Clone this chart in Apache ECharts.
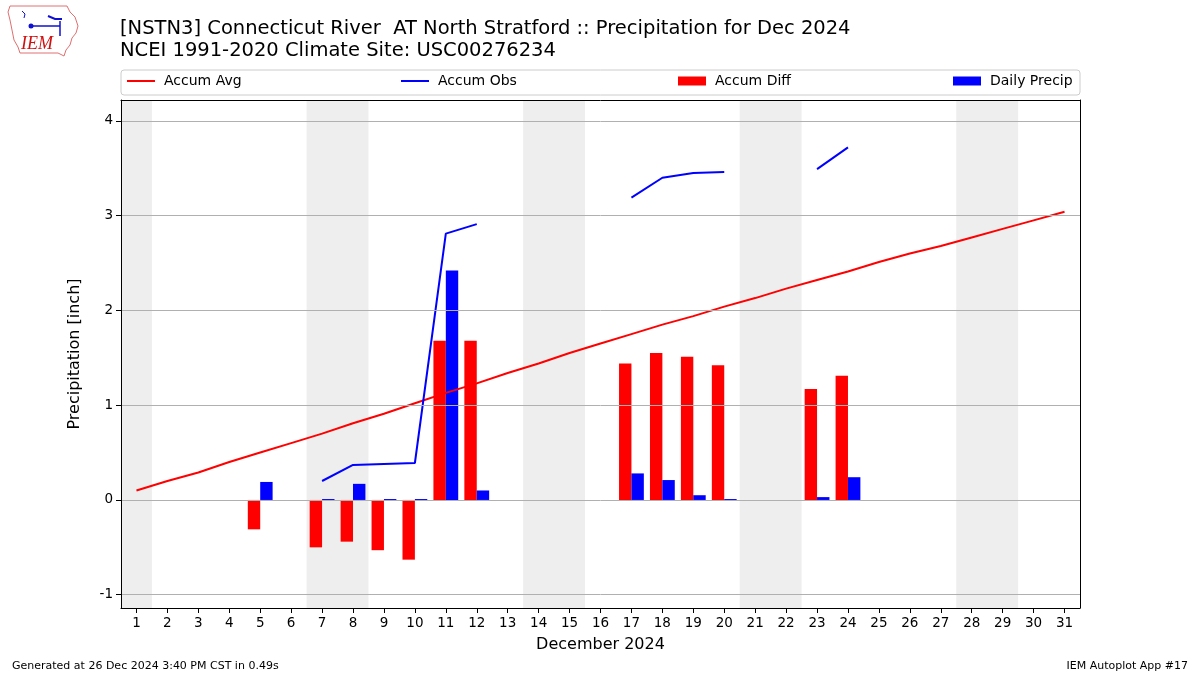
<!DOCTYPE html>
<html>
<head>
<meta charset="utf-8">
<script src="https://cdn.jsdelivr.net/npm/echarts@6/dist/echarts.min.js"></script>
<style>
html,body{margin:0;padding:0;background:#fff;}
#chart{width:1200px;height:675px;}
</style>
</head>
<body>
<div id="chart"></div>
<script>
// ---- data ----
const days = [1,2,3,4,5,6,7,8,9,10,11,12,13,14,15,16,17,18,19,20,21,22,23,24,25,26,27,28,29,30,31];
const accumAvg = [0.10,0.20,0.29,0.40,0.50,0.60,0.70,0.81,0.91,1.02,1.13,1.23,1.34,1.44,1.55,1.65,1.75,1.85,1.94,2.04,2.13,2.23,2.32,2.41,2.51,2.60,2.68,2.77,2.86,2.95,3.04];
const accumObs = [null,null,null,null,0.19,null,0.20,0.37,0.38,0.39,2.81,2.91,null,null,null,null,3.19,3.40,3.45,3.46,null,null,3.49,3.72,null,null,null,null,null,null,null];
const accumDiff = [null,null,null,null,-0.31,null,-0.50,-0.44,-0.53,-0.63,1.68,1.68,null,null,null,null,1.44,1.55,1.51,1.42,null,null,1.17,1.31,null,null,null,null,null,null,null];
const dailyPrecip = [null,null,null,null,0.19,null,0.01,0.17,0.01,0.01,2.42,0.10,null,null,null,null,0.28,0.21,0.05,0.01,null,null,0.03,0.24,null,null,null,null,null,null,null];
const weekendDays = [1,7,8,14,15,21,22,28,29];
const yTicks = [-1,0,1,2,3,4];
const titleText = '[NSTN3] Connecticut River  AT North Stratford :: Precipitation for Dec 2024\nNCEI 1991-2020 Climate Site: USC00276234';
const xName = 'December 2024';
const yName = 'Precipitation [inch]';
const footLeft = 'Generated at 26 Dec 2024 3:40 PM CST in 0.49s';
const footRight = 'IEM Autoplot App #17';

const FONT = 'DejaVu Sans';
const pair = arr => days.map((d,i) => [d, arr[i] == null ? '-' : arr[i]]);

// merge consecutive weekend days into single shaded spans
const weekendSpans = [];
weekendDays.forEach(d => {
  const last = weekendSpans[weekendSpans.length - 1];
  if (last && last[1] === d - 1) last[1] = d; else weekendSpans.push([d, d]);
});

const chart = echarts.init(document.getElementById('chart'), null, {renderer:'canvas'});

const legendCommon = {
  top: 74, itemWidth: 28, itemGap: 10, padding: 0, selectedMode: false,
  textStyle: {fontFamily: FONT, fontSize: 14, color: '#000', padding: [0,0,0,4]}
};

const XMIN = 0.5, XMAX = 31.5, YMIN = -1.14, YMAX = 4.22;

const option = {
  animation: false,
  backgroundColor: '#fff',
  title: {
    text: titleText, left: 120, top: 18, padding: 0,
    textStyle: {fontFamily: FONT, fontSize: 19.5, fontWeight: 'normal', color: '#000', lineHeight: 22}
  },
  legend: [
    Object.assign({}, legendCommon, {left: 127, itemHeight: 2, data: [{name:'Accum Avg', icon:'rect'}]}),
    Object.assign({}, legendCommon, {left: 401, itemHeight: 2, data: [{name:'Accum Obs', icon:'rect'}]}),
    Object.assign({}, legendCommon, {left: 678, itemHeight: 9, data: [{name:'Accum Diff', icon:'rect'}]}),
    Object.assign({}, legendCommon, {left: 953, itemHeight: 9, data: [{name:'Daily Precip', icon:'rect'}]})
  ],
  grid: {left: 121, right: 120, top: 100, bottom: 67, show: false},
  xAxis: [{
    type: 'value', min: XMIN, max: XMAX, position: 'bottom', z: 10,
    name: xName, nameLocation: 'middle', nameGap: 29,
    nameTextStyle: {fontFamily: FONT, fontSize: 16, color: '#000'},
    axisLine: {show: true, onZero: false, lineStyle: {color: '#000'}},
    axisTick: {show: true, length: 5, lineStyle: {color: '#000'}, customValues: days},
    axisLabel: {fontFamily: FONT, fontSize: 13.5, color: '#000', margin: 8, customValues: days},
    splitLine: {show: false}
  }, {
    type: 'value', min: XMIN, max: XMAX, position: 'top', z: 10,
    axisLine: {show: true, onZero: false, lineStyle: {color: '#000'}},
    axisTick: {show: false}, axisLabel: {show: false}, splitLine: {show: false}
  }],
  yAxis: [{
    type: 'value', min: YMIN, max: YMAX, position: 'left', z: 10,
    name: yName, nameLocation: 'middle', nameGap: 38, nameRotate: 90,
    nameTextStyle: {fontFamily: FONT, fontSize: 16, color: '#000'},
    axisLine: {show: true, onZero: false, lineStyle: {color: '#000'}},
    axisTick: {show: true, length: 5, lineStyle: {color: '#000'}, customValues: yTicks},
    axisLabel: {fontFamily: FONT, fontSize: 13.5, color: '#000', margin: 8, customValues: yTicks},
    splitLine: {show: false}
  }, {
    type: 'value', min: YMIN, max: YMAX, position: 'right', z: 10,
    axisLine: {show: true, onZero: false, lineStyle: {color: '#000'}},
    axisTick: {show: false}, axisLabel: {show: false}, splitLine: {show: false}
  }],
  series: [
    {
      name: 'weekend', type: 'line', data: [], z: 0, silent: true,
      markArea: {
        silent: true,
        itemStyle: {color: '#eeeeee'},
        data: weekendSpans.map(s => [{xAxis: s[0] - 0.5}, {xAxis: s[1] + 0.5}])
      }
    },
    {
      name: 'grid', type: 'line', data: [], z: 1, silent: true,
      markLine: {
        silent: true, symbol: 'none', label: {show: false},
        lineStyle: {color: '#b0b0b0', width: 1, type: 'solid'},
        data: yTicks.map(v => ({yAxis: v}))
      }
    },
    {
      name: 'Accum Diff', type: 'bar', data: pair(accumDiff), z: 2,
      barWidth: 12.4, barGap: '0%', itemStyle: {color: '#ff0000'}
    },
    {
      name: 'Daily Precip', type: 'bar', data: pair(dailyPrecip), z: 2,
      barWidth: 12.4, barGap: '0%', itemStyle: {color: '#0000ff'}
    },
    {
      name: 'Accum Avg', type: 'line', data: pair(accumAvg), z: 3,
      showSymbol: false, symbol: 'none', itemStyle: {color: '#ff0000'},
      lineStyle: {color: '#ff0000', width: 2}
    },
    {
      name: 'Accum Obs', type: 'line', data: pair(accumObs), z: 3,
      showSymbol: false, symbol: 'none', connectNulls: false, itemStyle: {color: '#0000ff'},
      lineStyle: {color: '#0000ff', width: 2}
    }
  ],
  graphic: [
    {type: 'rect', z: -1, shape: {x: 121, y: 70, width: 959, height: 25, r: 3},
     style: {fill: '#fff', stroke: '#cccccc', lineWidth: 1}},
    {type: 'text', left: 12, top: 661, style: {text: footLeft, font: '11px "DejaVu Sans"', fill: '#000'}},
    {type: 'text', right: 12, top: 661, style: {text: footRight, font: '11px "DejaVu Sans"', fill: '#000'}},
    // logo (approximation)
    {type: 'polygon', shape: {points: [[10,6],[67,6],[70,12],[75,17],[78,26],[76,33],[72,38],[70,45],[66,50],[64,56],[58,53],[20,53],[18,47],[14,40],[12,30],[10,20],[8,12]]},
     style: {fill: 'none', stroke: '#e07070', lineWidth: 1}},
    {type: 'polyline', shape: {points: [[31,26],[60,26]]}, style: {stroke: '#1010d0', lineWidth: 1.5}},
    {type: 'circle', shape: {cx: 31, cy: 26, r: 2.5}, style: {fill: '#1010d0'}},
    {type: 'polyline', shape: {points: [[48,16],[55,19],[62,19]]}, style: {stroke: '#1010d0', lineWidth: 2}},
    {type: 'polyline', shape: {points: [[60,21],[60,36]]}, style: {stroke: '#1010d0', lineWidth: 1.5}},
    {type: 'polyline', shape: {points: [[22,11],[25,14],[24,18]]}, style: {stroke: '#1010d0', lineWidth: 1}},
    {type: 'text', left: 21, top: 35, style: {text: 'IEM', font: 'italic 18px "Liberation Serif"', fill: '#d01010'}}
  ]
};
chart.setOption(option);
</script>
</body>
</html>
